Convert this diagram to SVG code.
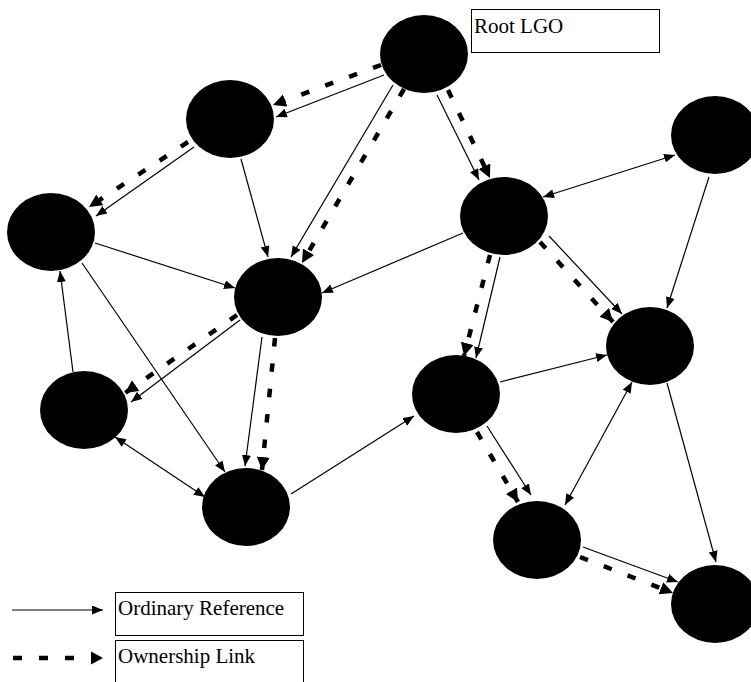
<svg xmlns="http://www.w3.org/2000/svg" width="751" height="682" viewBox="0 0 751 682">
  <style>
    .node { fill: #000; }
    .ref { stroke: #000; stroke-width: 1.2; fill: none; marker-end: url(#ah); }
    .bi { marker-start: url(#ahs); }
    .own { stroke: #000; stroke-width: 4.5; fill: none; stroke-dasharray: 8.5 17; marker-end: url(#ahBig); }
    .box { fill: #fff; stroke: #000; stroke-width: 1; }
    .lbl { font-family: "Liberation Serif", "Times New Roman", serif; font-size: 21px; fill: #000; }
  </style>
  <defs>
    <marker id="ah" markerUnits="userSpaceOnUse" markerWidth="12" markerHeight="10" refX="11" refY="4.5" orient="auto">
      <path d="M0,0 L11,4.5 L0,9 Z" fill="#000"/>
    </marker>
    <marker id="ahs" markerUnits="userSpaceOnUse" markerWidth="12" markerHeight="10" refX="0" refY="4.5" orient="auto">
      <path d="M11,0 L0,4.5 L11,9 Z" fill="#000"/>
    </marker>
    <marker id="ahBig" markerUnits="userSpaceOnUse" markerWidth="14" markerHeight="14" refX="13" refY="6.5" orient="auto">
      <path d="M0,0 L13,6.5 L0,13 Z" fill="#000"/>
    </marker>
  </defs>

  <!-- connectors -->
  <g id="connectors">
    <!-- root -->
    <line class="own" x1="381" y1="65" x2="273" y2="105"/>
    <line class="ref" x1="384" y1="75" x2="276" y2="117"/>
    <line class="ref" x1="393" y1="85" x2="291" y2="257"/>
    <line class="own" x1="404" y1="89" x2="302" y2="263"/>
    <line class="ref" x1="437" y1="95" x2="479" y2="180"/>
    <line class="own" x1="448" y1="90" x2="490" y2="178"/>
    <!-- upper left -->
    <line class="ref" x1="194" y1="147" x2="96" y2="216"/>
    <line class="own" x1="188" y1="142" x2="89" y2="207"/>
    <line class="ref" x1="241" y1="159" x2="268" y2="257"/>
    <!-- left -->
    <line class="ref" x1="95" y1="243" x2="235" y2="288"/>
    <line class="ref" x1="82" y1="263" x2="225" y2="472"/>
    <line class="ref" x1="73" y1="372" x2="60" y2="271"/>
    <!-- centre -->
    <line class="ref" x1="240" y1="320" x2="131" y2="402"/>
    <line class="own" x1="237" y1="315" x2="125" y2="393"/>
    <line class="ref" x1="262" y1="337" x2="245" y2="466"/>
    <line class="own" x1="275" y1="338" x2="262" y2="470"/>
    <line class="ref bi" x1="115" y1="437" x2="205" y2="497"/>
    <line class="ref" x1="291" y1="494" x2="414" y2="416"/>
    <!-- right cluster -->
    <line class="ref" x1="463" y1="233" x2="322" y2="293"/>
    <line class="ref bi" x1="543" y1="197" x2="675" y2="155"/>
    <line class="ref" x1="709" y1="177" x2="667" y2="308"/>
    <line class="ref" x1="549" y1="236" x2="622" y2="314"/>
    <line class="own" x1="540" y1="242" x2="613" y2="322"/>
    <line class="ref" x1="500" y1="257" x2="476" y2="358"/>
    <line class="own" x1="490" y1="255" x2="464" y2="356"/>
    <line class="ref" x1="500" y1="382" x2="607" y2="355"/>
    <line class="ref bi" x1="632" y1="382" x2="565" y2="505"/>
    <line class="ref" x1="487" y1="426" x2="531" y2="495"/>
    <line class="own" x1="477" y1="432" x2="518" y2="502"/>
    <line class="ref" x1="667" y1="383" x2="716" y2="562"/>
    <line class="ref" x1="583" y1="547" x2="678" y2="582"/>
    <line class="own" x1="580" y1="557" x2="673" y2="593"/>
  </g>

  <!-- objects -->
  <g id="n-root"><ellipse class="node" cx="424" cy="54" rx="44" ry="39"/></g>
  <g id="n-a"><ellipse class="node" cx="230" cy="119" rx="44" ry="39"/></g>
  <g id="n-b"><ellipse class="node" cx="51" cy="232" rx="44" ry="39"/></g>
  <g id="n-c"><ellipse class="node" cx="278" cy="297" rx="44" ry="39"/></g>
  <g id="n-d"><ellipse class="node" cx="84" cy="410" rx="44" ry="39"/></g>
  <g id="n-e"><ellipse class="node" cx="246" cy="507" rx="44" ry="39"/></g>
  <g id="n-f"><ellipse class="node" cx="504" cy="216" rx="44" ry="39"/></g>
  <g id="n-g"><ellipse class="node" cx="715" cy="135" rx="44" ry="39"/></g>
  <g id="n-h"><ellipse class="node" cx="650" cy="346" rx="44" ry="39"/></g>
  <g id="n-i"><ellipse class="node" cx="456" cy="394" rx="44" ry="39"/></g>
  <g id="n-j"><ellipse class="node" cx="537" cy="540" rx="44" ry="39"/></g>
  <g id="n-k"><ellipse class="node" cx="715" cy="604" rx="44" ry="39"/></g>

  <!-- root label -->
  <g id="root-label">
    <rect class="box" x="471.5" y="9.5" width="188" height="43"/>
    <text class="lbl" x="474" y="33">Root LGO</text>
  </g>

  <!-- legend -->
  <g id="legend">
    <line x1="12" y1="610" x2="103" y2="610" stroke="#000" stroke-width="1.2" marker-end="url(#ah)"/>
    <rect class="box" x="115.5" y="592.5" width="188" height="43"/>
    <text class="lbl" x="118" y="615">Ordinary Reference</text>
    <line x1="13" y1="658" x2="88" y2="658" stroke="#000" stroke-width="4.5" stroke-dasharray="9 17"/>
    <path d="M91,651.5 L103,658 L91,664.5 Z" fill="#000"/>
    <rect class="box" x="115.5" y="640.5" width="188" height="50"/>
    <text class="lbl" x="118" y="663">Ownership Link</text>
  </g>
</svg>
